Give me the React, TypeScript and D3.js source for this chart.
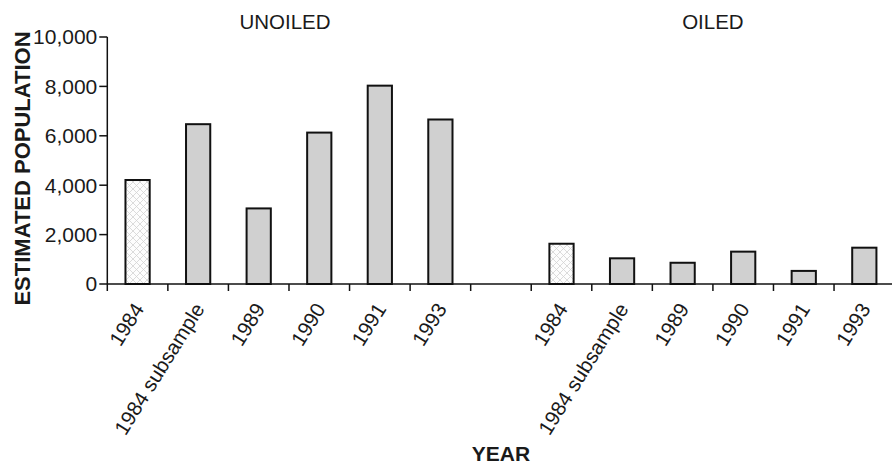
import React from "react";
import * as d3 from "d3";

const categories = ["1984", "1984 subsample", "1989", "1990", "1991", "1993"];
const unoiledValues = [4210, 6470, 3060, 6130, 8030, 6660];
const oiledValues = [1630, 1040, 860, 1310, 530, 1470];
const hatched = [true, false, false, false, false, false];
const groups = ["UNOILED", "OILED"];
const yTicks = [0, 2000, 4000, 6000, 8000, 10000];

const W = 892;
const H = 465;
const FONT = "'Liberation Sans', Arial, Helvetica, sans-serif";

export default function App() {
  const left = 107.3;
  const right = 894.6;
  const bottom = 284;
  const top = 37;

  // slots: 6 unoiled, 1 gap, 6 oiled
  const slots: string[] = [
    ...categories.map((c) => "U|" + c),
    "gap",
    ...categories.map((c) => "O|" + c),
  ];
  const x = d3.scaleBand<string>().domain(slots).range([left, right]).padding(0);
  const y = d3.scaleLinear().domain([0, 10000]).range([bottom, top]);
  const bw = x.bandwidth() * 0.4;

  const bars = [
    ...categories.map((c, i) => ({ key: "U|" + c, v: unoiledValues[i], h: hatched[i], label: c })),
    ...categories.map((c, i) => ({ key: "O|" + c, v: oiledValues[i], h: hatched[i], label: c })),
  ];

  const fmt = d3.format(",");
  const unoiledCenter =
    ((x("U|" + categories[0]) as number) + (x("U|" + categories[5]) as number) + x.bandwidth()) / 2;
  const oiledCenter =
    ((x("O|" + categories[0]) as number) + (x("O|" + categories[5]) as number) + x.bandwidth()) / 2;

  const boundaries = slots.map((s) => x(s) as number).concat([right]);

  return (
    <svg
      width={W}
      height={H}
      style={{ position: "absolute", left: 0, top: 0, background: "#fff" }}
      fontFamily={FONT}
    >
      <defs>
        <pattern id="hatch" width="7" height="7" patternUnits="userSpaceOnUse">
          <rect width="7" height="7" fill="#fdfdfd" />
          <path d="M0,0 L7,7 M7,0 L0,7" stroke="#d2d2d2" strokeWidth="0.8" />
        </pattern>
      </defs>

      {/* group titles */}
      <text x={unoiledCenter - 4} y={29} fontSize={20.5} textAnchor="middle" fill="#1a1a1a">
        {groups[0]}
      </text>
      <text x={oiledCenter} y={29} fontSize={20.5} textAnchor="middle" fill="#1a1a1a">
        {groups[1]}
      </text>

      {/* bars */}
      {bars.map((b) => {
        const cx = (x(b.key) as number) + x.bandwidth() / 2;
        return (
          <rect
            key={b.key}
            x={cx - bw / 2}
            y={y(b.v)}
            width={bw}
            height={bottom - y(b.v)}
            fill={b.h ? "url(#hatch)" : "#d0d0d0"}
            stroke="#111"
            strokeWidth={2}
          />
        );
      })}

      {/* y axis */}
      <line x1={left} x2={left} y1={top} y2={bottom} stroke="#111" strokeWidth={1.5} />
      {yTicks.map((t) => (
        <g key={t}>
          <line x1={left - 8} x2={left} y1={y(t)} y2={y(t)} stroke="#111" strokeWidth={1.5} />
          <text
            x={left - 10}
            y={y(t)}
            dy="0.35em"
            fontSize={21}
            textAnchor="end"
            fill="#1a1a1a"
          >
            {fmt(t)}
          </text>
        </g>
      ))}

      {/* x axis */}
      <line x1={left} x2={W} y1={bottom} y2={bottom} stroke="#111" strokeWidth={1.5} />
      {boundaries.map((bx, i) => (
        <line key={i} x1={bx} x2={bx} y1={bottom} y2={bottom + 7} stroke="#111" strokeWidth={1.5} />
      ))}
      {bars.map((b) => {
        const cx = (x(b.key) as number) + x.bandwidth() / 2;
        return (
          <text
            key={"l" + b.key}
            transform={`translate(${cx + 1},${bottom + 21}) rotate(-58)`}
            dy="0.35em"
            fontSize={20.5}
            textAnchor="end"
            fill="#1a1a1a"
          >
            {b.label}
          </text>
        );
      })}

      {/* axis titles */}
      <text
        transform={`translate(30,${(top + bottom) / 2 + 8}) rotate(-90)`}
        fontSize={22}
        fontWeight="bold"
        textAnchor="middle"
        fill="#1a1a1a"
      >
        ESTIMATED POPULATION
      </text>
      <text x={501} y={461} fontSize={21} fontWeight="bold" textAnchor="middle" fill="#1a1a1a">
        YEAR
      </text>
    </svg>
  );
}
